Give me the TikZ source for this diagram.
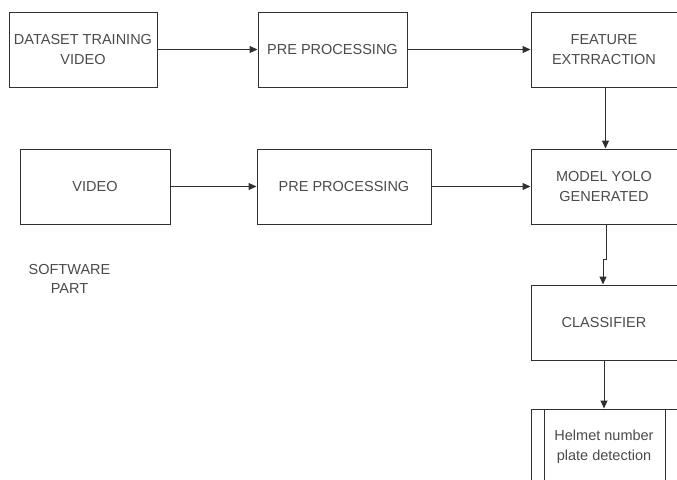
\documentclass[tikz,border=0pt]{standalone}
\usepackage{fontspec}
\setmainfont{Liberation Sans}
\usetikzlibrary{arrows.meta}
\definecolor{txt}{HTML}{4A4A4A}
\definecolor{ln}{HTML}{303030}
\tikzset{
  box/.style={draw=ln, line width=1pt, rectangle, minimum height=75pt, align=center, text=txt,
    font=\fontsize{14.5}{20}\selectfont, inner sep=0pt},
  arr/.style={draw=ln, line width=1pt, -{Triangle[length=8pt,width=7pt]}},
  lbl/.style={align=center, text=txt, font=\fontsize{14.5}{18.5}\selectfont, inner sep=0pt}
}
\begin{document}
\begin{tikzpicture}[x=1pt,y=-1pt]
\useasboundingbox (0,0) rectangle (677,479);
\node[box, minimum width=148pt] (ds) at (83,49.5) {DATASET TRAINING\\VIDEO};
\node[box, minimum width=149pt] (pp1) at (332.5,49.5) {PRE PROCESSING};
\node[box, minimum width=146pt] (fe) at (604,49.5) {FEATURE\\EXTRRACTION};
\node[box, minimum width=150pt] (vid) at (95,186.5) {VIDEO};
\node[box, minimum width=174pt] (pp2) at (344,186.5) {PRE PROCESSING};
\node[box, minimum width=146pt] (mod) at (604,186.5) {MODEL YOLO\\GENERATED};
\node[box, minimum width=146pt] (cls) at (604,322.5) {CLASSIFIER};
\node[box, minimum width=146pt] (hel) at (604,446.5) {Helmet number\\plate detection};
\draw[ln, line width=1pt] ([xshift=14pt]hel.north west) -- ([xshift=14pt]hel.south west);
\draw[ln, line width=1pt] ([xshift=-12pt]hel.north east) -- ([xshift=-12pt]hel.south east);
\node[lbl] (sw) at (69.5,279) {SOFTWARE\\PART};
\draw[arr] (ds) -- (pp1);
\draw[arr] (pp1) -- (fe);
\draw[arr] ([xshift=1.5pt]fe.south) -- ([xshift=1.5pt]mod.north);
\draw[arr] (vid) -- (pp2);
\draw[arr] (pp2) -- (mod);
\draw[arr] ([xshift=2pt]mod.south) -- ++(0,35) -| ([xshift=-1pt]cls.north);
\draw[arr] (cls) -- (hel);
\end{tikzpicture}
\end{document}
